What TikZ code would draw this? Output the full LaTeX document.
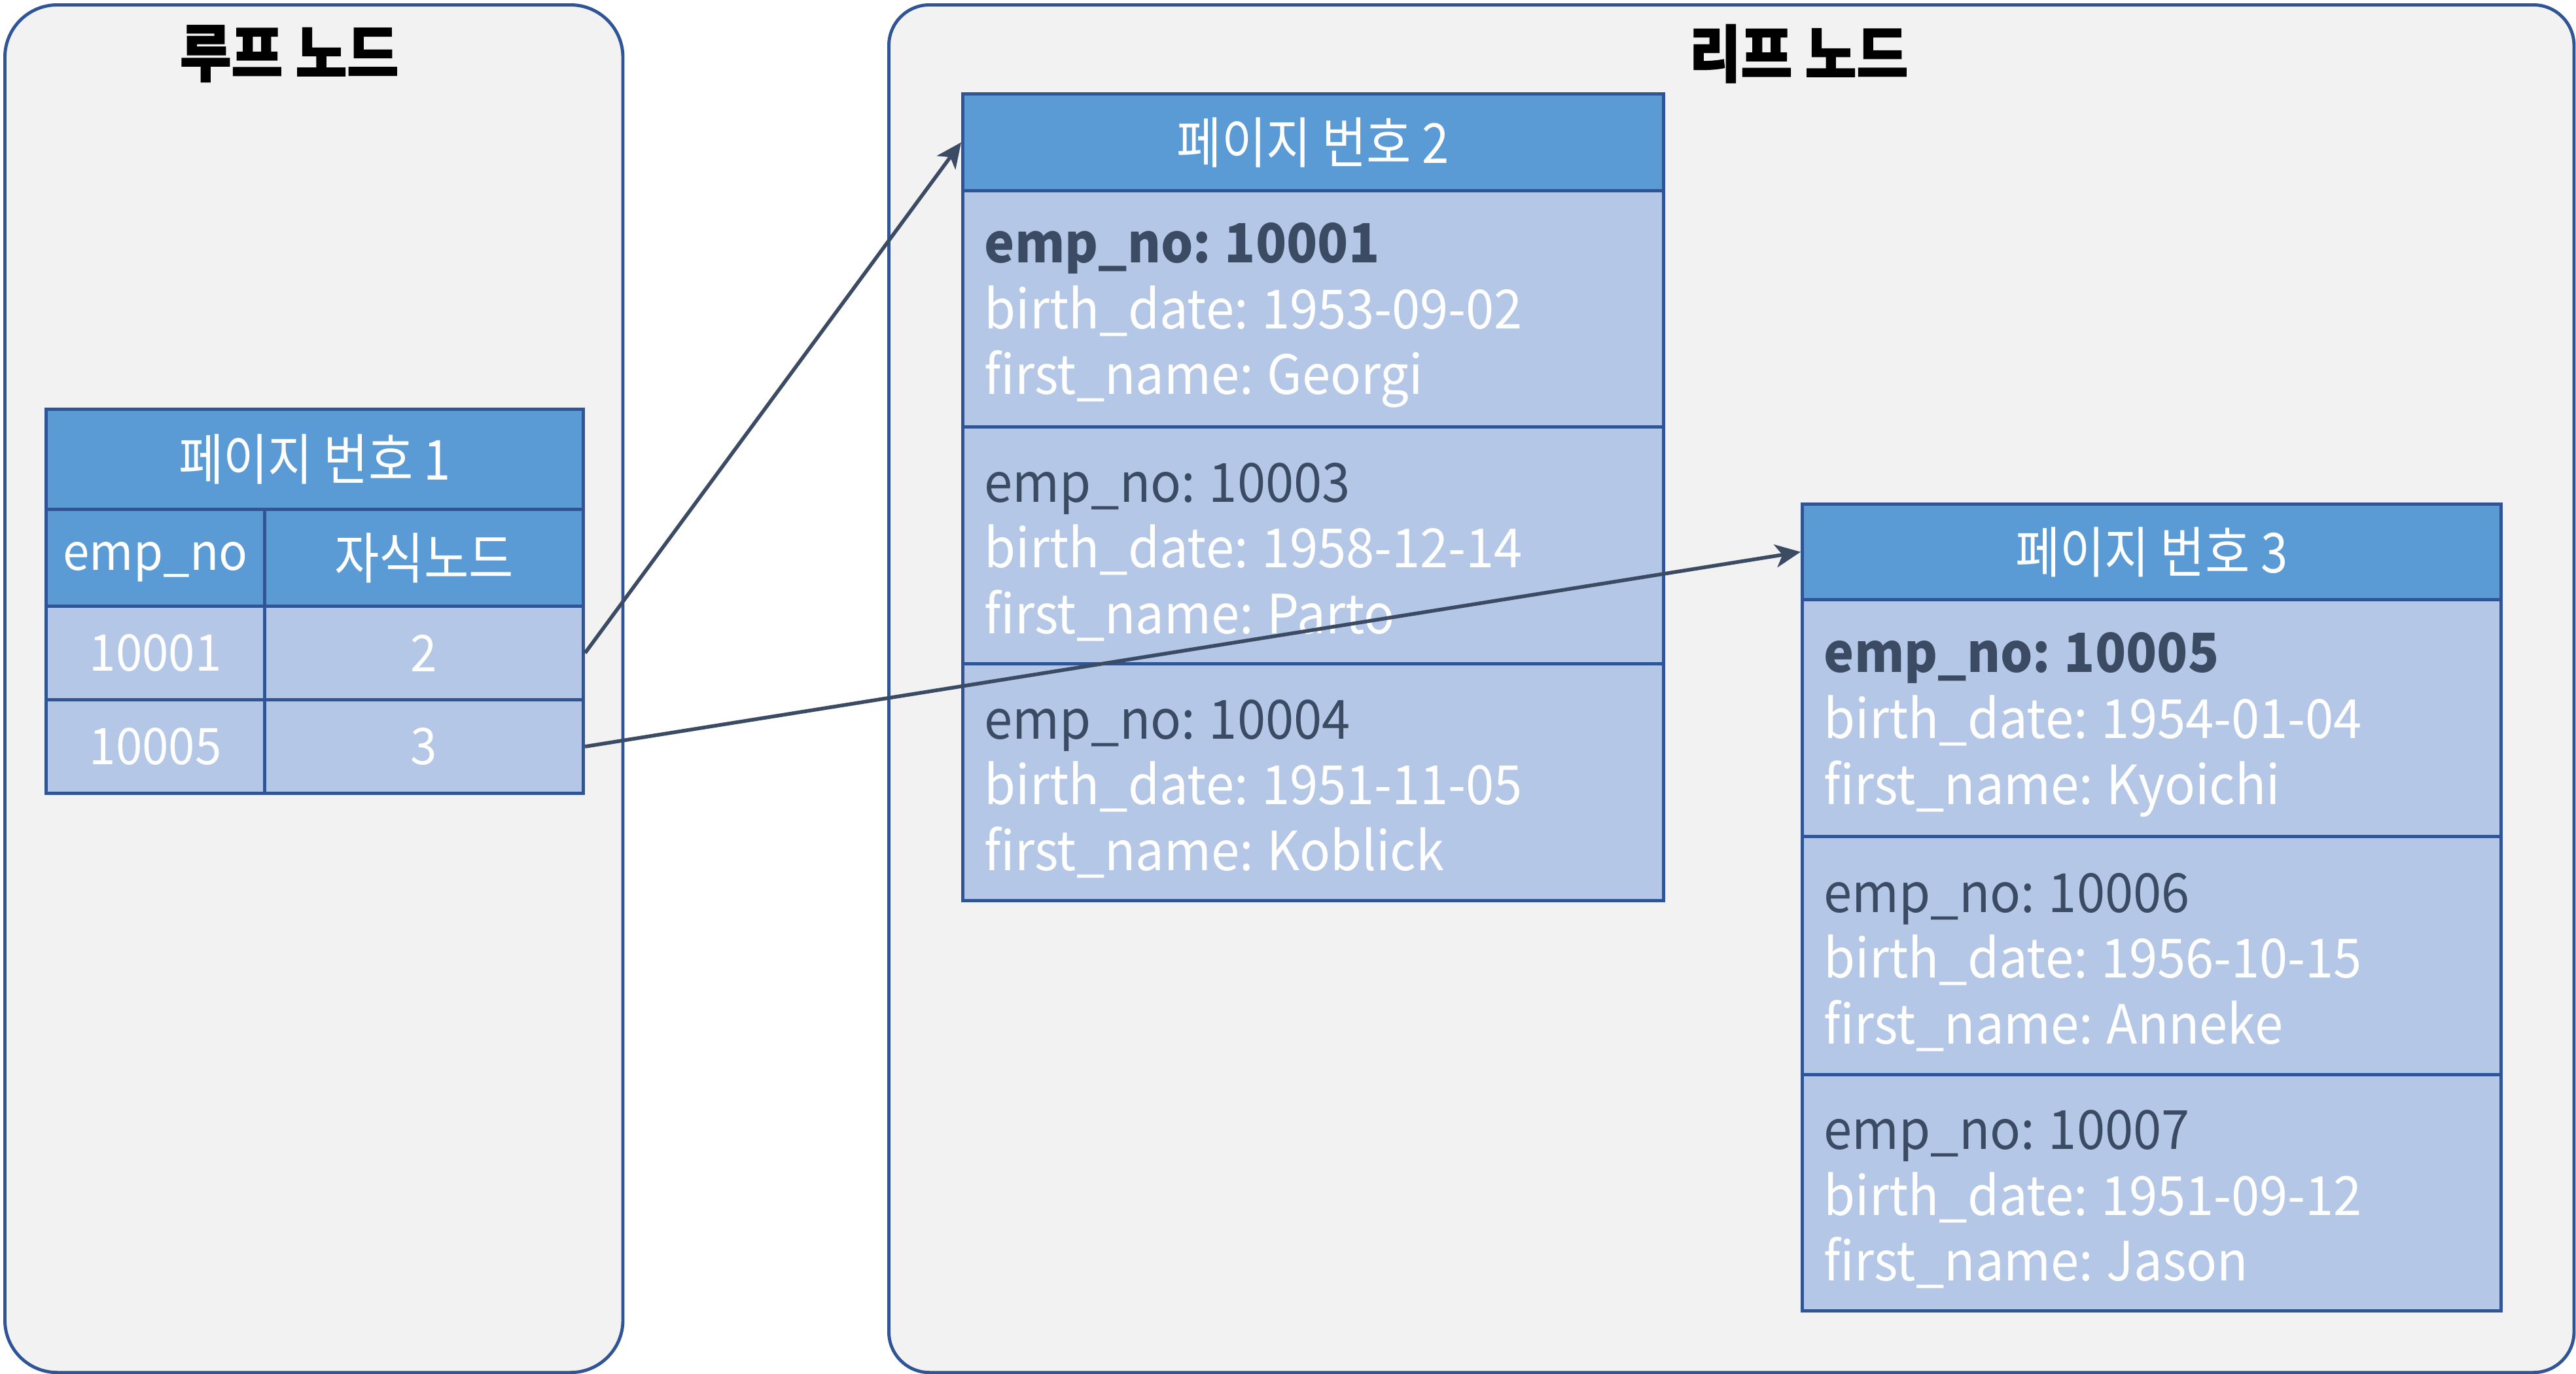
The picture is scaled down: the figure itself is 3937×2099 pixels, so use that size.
\documentclass[tikz,border=0pt]{standalone}
\usepackage{fontspec}
\setmainfont{Noto Sans CJK KR}[WordSpace=0.85, FakeStretch=0.94]
\newfontfamily\kr{Noto Sans CJK KR}[FakeStretch=0.88]
\newfontfamily\titlefont{Noto Sans CJK KR}[FakeStretch=0.9, BoldFeatures={FakeBold=1.6}]
\usetikzlibrary{arrows.meta}
\definecolor{bord}{HTML}{2F5597}
\definecolor{outerfill}{HTML}{F2F2F2}
\definecolor{hdrblue}{HTML}{5B9BD5}
\definecolor{bodyblue}{HTML}{B4C7E7}
\definecolor{darktxt}{HTML}{3B4B63}
\tikzset{
  outerbox/.style={draw=bord, fill=outerfill, line width=1.4pt, anchor=north west, inner sep=0pt},
  titletxt/.style={text=black, font=\titlefont\bfseries\fontsize{27}{31}\selectfont},
  cell/.style={draw=bord, line width=1.4pt, inner sep=0pt, anchor=north west, text=white},
  hdr/.style={cell, fill=hdrblue, font=\kr\fontsize{24}{28}\selectfont},
  bodycell/.style={cell, fill=bodyblue, font=\fontsize{22}{26}\selectfont},
  rec/.style={cell, fill=bodyblue},
  rectxt/.style={anchor=west, align=left, inner sep=0pt, text=white,
    font=\fontsize{23.5}{28.6}\selectfont},
  conn/.style={draw=darktxt, line width=1.6pt, -{Stealth[length=11pt, width=10pt, inset=3pt]}}
}
\begin{document}
\begin{tikzpicture}[x=0.01cm, y=-0.01cm]
\useasboundingbox (0,0) rectangle (3937,2099);
\fill[white] (0,0) rectangle (3937,2099);

% outer containers
\node[outerbox, rounded corners=0.8cm, minimum width=9.44cm, minimum height=20.89cm] (root) at (5,5) {};
\node[outerbox, rounded corners=0.62cm, minimum width=25.74cm, minimum height=20.89cm] (leaf) at (1356,5) {};
\node[titletxt] (roottitle) at (442,82) {루프 노드};
\node[titletxt] (leaftitle) at (2749,82) {리프 노드};

% root page
\node[hdr, minimum width=8.21cm, minimum height=1.53cm] (t1h) at (68,623) {페이지 번호 1};
\node[hdr, font=\fontsize{22}{26}\selectfont, minimum width=3.34cm, minimum height=1.48cm] (t1a) at (68,776) {\smash{\raisebox{-0.25em}{emp\_no}}};
\node[hdr, minimum width=4.87cm, minimum height=1.48cm] (t1b) at (402,776) {자식노드};
\node[bodycell, minimum width=3.34cm, minimum height=1.43cm] (t1c) at (68,924) {10001};
\node[bodycell, minimum width=4.87cm, minimum height=1.43cm] (t1d) at (402,924) {2};
\node[bodycell, minimum width=3.34cm, minimum height=1.43cm] (t1e) at (68,1067) {10005};
\node[bodycell, minimum width=4.87cm, minimum height=1.43cm] (t1f) at (402,1067) {3};

% leaf page 2
\node[hdr, minimum width=10.70cm, minimum height=1.48cm] (p2h) at (1469,141) {페이지 번호 2};
\node[rec, minimum width=10.70cm, minimum height=3.61cm] (p2a) at (1469,289) {};
\node[rec, minimum width=10.70cm, minimum height=3.62cm] (p2b) at (1469,650) {};
\node[rec, minimum width=10.70cm, minimum height=3.62cm] (p2c) at (1469,1012) {};
\node[rectxt] (p2at) at ([shift={(35,10)}]p2a.west)
  {\textcolor{darktxt}{\bfseries emp\_no: 10001}\\birth\_date: 1953-09-02\\first\_name: Georgi};
\node[rectxt] (p2bt) at ([shift={(35,10)}]p2b.west)
  {\textcolor{darktxt}{emp\_no: 10003}\\birth\_date: 1958-12-14\\first\_name: Parto};
\node[rectxt] (p2ct) at ([shift={(35,10)}]p2c.west)
  {\textcolor{darktxt}{emp\_no: 10004}\\birth\_date: 1951-11-05\\first\_name: Koblick};

% leaf page 3
\node[hdr, minimum width=10.67cm, minimum height=1.46cm] (p3h) at (2752,768) {페이지 번호 3};
\node[rec, minimum width=10.67cm, minimum height=3.62cm] (p3a) at (2752,914) {};
\node[rec, minimum width=10.67cm, minimum height=3.64cm] (p3b) at (2752,1276) {};
\node[rec, minimum width=10.67cm, minimum height=3.61cm] (p3c) at (2752,1640) {};
\node[rectxt] (p3at) at ([shift={(35,10)}]p3a.west)
  {\textcolor{darktxt}{\bfseries emp\_no: 10005}\\birth\_date: 1954-01-04\\first\_name: Kyoichi};
\node[rectxt] (p3bt) at ([shift={(35,10)}]p3b.west)
  {\textcolor{darktxt}{emp\_no: 10006}\\birth\_date: 1956-10-15\\first\_name: Anneke};
\node[rectxt] (p3ct) at ([shift={(35,10)}]p3c.west)
  {\textcolor{darktxt}{emp\_no: 10007}\\birth\_date: 1951-09-12\\first\_name: Jason};

% connectors
\draw[conn] (t1d.east) -- (p2h.west);
\draw[conn] (t1f.east) -- (p3h.west);
\end{tikzpicture}
\end{document}
